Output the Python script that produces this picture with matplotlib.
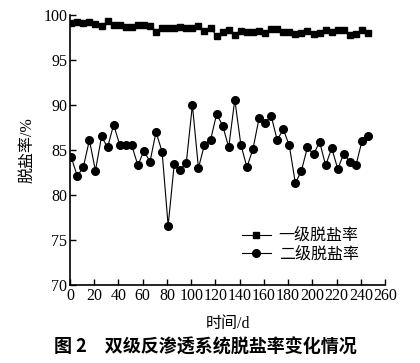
import matplotlib.pyplot as plt
import numpy as np

plt.rcParams['font.family'] = ['Liberation Serif', 'Noto Sans CJK SC']
plt.rcParams['axes.unicode_minus'] = False

# sampling days (every 5 days)
days = np.arange(1, 250, 5)

# first-stage RO salt rejection, %
stage1 = [99.15, 99.26, 99.15, 99.2, 99.0, 98.8, 99.3, 98.93, 98.9, 98.63,
          98.7, 98.9, 98.9, 98.8, 98.15, 98.6, 98.56, 98.6, 98.65, 98.5,
          98.5, 98.74, 98.26, 98.6, 97.67, 98.07, 98.37, 97.81, 98.19, 98.11,
          98.11, 98.26, 97.96, 98.41, 98.48, 98.11, 98.07, 97.93, 98.04, 98.26,
          97.85, 98.04, 98.3, 98.07, 98.3, 98.3, 97.78, 97.93, 98.3, 98.0]

# second-stage RO salt rejection, %
stage2 = [84.2, 82.1, 83.1, 86.1, 82.7, 86.5, 85.3, 87.8, 85.6, 85.5,
          85.5, 83.3, 84.9, 83.7, 87.0, 84.8, 76.6, 83.4, 82.8, 83.6,
          90.0, 83.0, 85.6, 86.1, 89.0, 87.7, 85.3, 90.6, 85.6, 83.1,
          85.1, 88.5, 88.0, 88.8, 86.1, 87.3, 85.5, 81.3, 82.7, 85.3,
          84.5, 85.9, 83.3, 85.2, 82.9, 84.6, 83.7, 83.3, 86.0, 86.6]

fig = plt.figure(figsize=(4.2, 3.63), dpi=100)
ax = fig.add_axes([0.1667, 0.2149, 0.75, 0.7438])

ax.plot(days, stage1, color='k', marker='s', markersize=5, linewidth=0.8,
        label='一级脱盐率')
ax.plot(days, stage2, color='k', marker='o', markersize=5.5, linewidth=0.8,
        label='二级脱盐率')

ax.set_xlim(0, 260)
ax.set_ylim(70, 100)
ax.set_xticks(np.arange(0, 261, 20))
ax.set_yticks(np.arange(70, 101, 5))
ax.tick_params(direction='in', length=4, width=1, labelsize=11.5, pad=2)
ax.spines['top'].set_visible(False)
ax.spines['right'].set_visible(False)
ax.spines['left'].set_linewidth(1.2)
ax.spines['bottom'].set_linewidth(1.2)

ax.set_xlabel('时间/d', fontsize=11.5, labelpad=9)
ax.set_ylabel('脱盐率/%', fontsize=11.5, labelpad=6)

leg = ax.legend(loc='lower left', bbox_to_anchor=(0.5, 0.03), frameon=False,
                fontsize=11.5, handlelength=1.8, handletextpad=0.5,
                labelspacing=0.15)

fig.text(0.49, 0.043, '图 2　双级反渗透系统脱盐率变化情况', ha='center',
         va='center', fontsize=13, fontweight='bold',
         family=['Noto Sans CJK SC'])

plt.savefig('out.png', dpi=100)
